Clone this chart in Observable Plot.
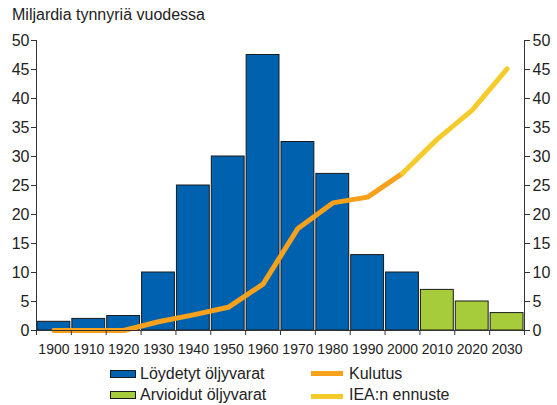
<!DOCTYPE html>
<html>
<head>
<meta charset="utf-8">
<script src="https://cdn.jsdelivr.net/npm/d3@7"></script>
<script src="https://cdn.jsdelivr.net/npm/@observablehq/plot@0.6"></script>
<style>
  html, body { margin: 0; padding: 0; background: #fff; }
  #wrap { position: relative; width: 557px; height: 405px; font-family: "Liberation Sans", Arial, sans-serif; color: #222; }
  #title { position: absolute; left: 12px; top: 7px; font-size: 16px; line-height: 16px; white-space: nowrap; }
  #chart { position: absolute; left: 0; top: 26px; }
  .lg { position: absolute; font-size: 16px; line-height: 16px; white-space: nowrap; }
  .sw { position: absolute; box-sizing: border-box; }
</style>
</head>
<body>
<div id="wrap">
  <div id="title">Miljardia tynnyriä vuodessa</div>
  <div id="chart"></div>
  <div id="legend"></div>
</div>
<script>
// Decades (x categories)
const foundYears = [1900, 1910, 1920, 1930, 1940, 1950, 1960, 1970, 1980, 1990, 2000];
const foundReserves = [1.5, 2, 2.5, 10, 25, 30, 47.5, 32.5, 27, 13, 10];   // Löydetyt öljyvarat
const estimatedYears = [2010, 2020, 2030];
const estimatedReserves = [7, 5, 3];                                       // Arvioidut öljyvarat
const consumptionYears = [1900, 1910, 1920, 1930, 1940, 1950, 1960, 1970, 1980, 1990, 2000];
const consumption = [0, 0, 0, 1.5, 2.7, 4, 8, 17.6, 22, 23, 27.1];         // Kulutus
const forecastYears = [2000, 2010, 2020, 2030];
const forecast = [27.1, 33, 38, 45.1];                                     // IEA:n ennuste
const tickLabels = [1900, 1910, 1920, 1930, 1940, 1950, 1960, 1970, 1980, 1990, 2000, 2010, 2020, 2030];
const yTicks = [0, 5, 10, 15, 20, 25, 30, 35, 40, 45, 50];
const legendLabels = ["Löydetyt öljyvarat", "Arvioidut öljyvarat", "Kulutus", "IEA:n ennuste"];
const colors = {found: "#0062AE", est: "#A6CB3B", cons: "#F7A11C", fc: "#F4CB2B"};

const found = foundYears.map((y, i) => ({year: y, value: foundReserves[i]}));
const est = estimatedYears.map((y, i) => ({year: y, value: estimatedReserves[i]}));
const cons = consumptionYears.map((y, i) => ({year: y, value: consumption[i]}));
const fc = forecastYears.map((y, i) => ({year: y, value: forecast[i]}));
const xMin = tickLabels[0] - 5, xMax = tickLabels[tickLabels.length - 1] + 5;
const bounds = d3.range(xMin, xMax + 1, 10);

const chart = Plot.plot({
  width: 557,
  height: 334,
  marginLeft: 36,
  marginRight: 33,
  marginTop: 14,
  marginBottom: 30,
  x: {type: "linear", domain: [xMin, xMax]},
  y: {domain: [0, 50]},
  style: {fontFamily: "'Liberation Sans', Arial, sans-serif", fontSize: "14px", color: "#222", background: "transparent", overflow: "visible"},
  marks: [
    Plot.rectY(found, {x1: d => d.year - 5, x2: d => d.year + 5, y: "value", fill: colors.found, stroke: "#1a1a1a", strokeWidth: 1, insetLeft: 1, insetRight: 1}),
    Plot.rectY(est, {x1: d => d.year - 5, x2: d => d.year + 5, y: "value", fill: colors.est, stroke: "#1a1a1a", strokeWidth: 1, insetLeft: 1, insetRight: 1}),
    Plot.line(cons, {x: "year", y: "value", stroke: colors.cons, strokeWidth: 5}),
    Plot.line(fc, {x: "year", y: "value", stroke: colors.fc, strokeWidth: 5}),
    Plot.ruleY([0], {stroke: "#333"}),
    Plot.ruleX([xMin, xMax], {y1: 0, y2: 50, stroke: "#333"}),
    Plot.axisY({anchor: "left", ticks: yTicks, tickSize: 5, tickPadding: 2, label: null, fontSize: 16, stroke: "#333"}),
    Plot.axisY({anchor: "right", ticks: yTicks, tickSize: 5, tickPadding: 3, label: null, fontSize: 16, stroke: "#333"}),
    Plot.axisX({ticks: bounds, tickSize: 5, tickFormat: () => "", label: null, stroke: "#333"}),
    Plot.axisX({ticks: tickLabels, tickSize: 0, tickPadding: 14, tickFormat: d => String(d), label: null, fontSize: 14})
  ]
});
document.getElementById("chart").appendChild(chart);

// Legend
const legend = document.getElementById("legend");
function addSwatch(left, top, w, h, bg, border) {
  const s = document.createElement("div");
  s.className = "sw";
  Object.assign(s.style, {left: left + "px", top: top + "px", width: w + "px", height: h + "px", background: bg, border: border || "none"});
  legend.appendChild(s);
}
function addText(left, top, txt) {
  const t = document.createElement("div");
  t.className = "lg";
  t.style.left = left + "px";
  t.style.top = top + "px";
  t.textContent = txt;
  legend.appendChild(t);
}
addSwatch(110, 370, 26, 8, colors.found, "1px solid #1a1a1a");
addText(140, 365.8, legendLabels[0]);
addSwatch(110, 391, 26, 8, colors.est, "1px solid #1a1a1a");
addText(140, 387.2, legendLabels[1]);
addSwatch(311, 371, 32, 5, colors.cons);
addText(349, 365.8, legendLabels[2]);
addSwatch(311, 393.5, 32, 5, colors.fc);
addText(349, 387.2, legendLabels[3]);
</script>
</body>
</html>
